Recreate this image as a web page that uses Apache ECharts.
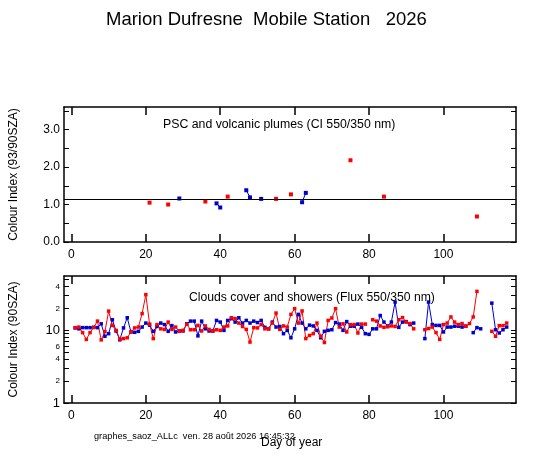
<!DOCTYPE html>
<html>
<head>
<meta charset="utf-8">
<title>Marion Dufresne Mobile Station 2026</title>
<script src="https://cdn.jsdelivr.net/npm/echarts@6/dist/echarts.min.js"></script>
<style type="text/css">
body{ margin:0; background:#fff; }
#chart{ width:547px; height:455px; }
</style>
</head>
<body>
<div id="chart"></div>
<script>
// --- top panel : PSC and volcanic plumes (CI 550/350 nm)
var pscRedDays  = [21, 26, 36, 42, 55, 59, 75, 84, 109];
var pscRedCI    = [1.05, 1.00, 1.08, 1.21, 1.15, 1.27, 2.18, 1.21, 0.68];
var pscBlueDays = [29, 39, 40, 47, 48, 51, 62, 63];
var pscBlueCI   = [1.16, 1.03, 0.92, 1.38, 1.19, 1.15, 1.06, 1.31];
var pscRefCI = 1.15;

// --- bottom panel : clouds cover and showers, one value per day from day 1
var cloudFirstDay = 1;
var cloudRed = [
  10.9, 11.1, 9.3, 7.5, 9.3, 11.0, 13.4, 7.4, 9.6, 18.4,
  11.7, 10.0, 7.6, 7.7, 7.9, 9.5, 10.8, 11.1, 17.0, 31.0,
  12.2, 7.7, 12.0, 10.5, 10.3, 13.0, 10.3, 11.1, 9.7, 10.0,
  12.1, 10.2, 10.2, 11.7, 9.8, 11.5, 10.3, 9.8, 10.2, 10.0,
  11.1, 11.5, 14.9, 14.5, 12.6, 11.3, 10.3, 6.9, 10.9, 10.8,
  12.0, 10.5, 10.5, 12.6, 17.3, 10.3, 11.5, 11.1, 16.6, 19.9,
  12.6, 18.5, 7.7, 8.5, 9.0, 12.6, 8.3, 6.8, 13.7, 14.8,
  19.9, 11.1, 12.3, 9.5, 12.0, 12.0, 9.2, 12.2, 12.2, null,
  14.0, 13.4, 11.5, 11.0, 11.2, 11.5, 11.3, 14.0, 15.0, 13.0,
  12.4, 10.5, null, null, 10.2, 10.6, 11.1, 9.3, 7.5, 12.0,
  12.6, 15.3, 13.0, 12.0, 12.4, 11.4, 12.4, 15.3, 34.4, null,
  null, null, 9.7, 8.3, 11.6, 11.6, 12.6
];
var cloudBlue = [
  10.8, 10.5, 10.9, 10.9, 10.9, 11.0, 10.9, 12.3, 8.3, 9.0,
  14.0, 9.8, 7.4, 10.8, 14.9, 9.5, 9.4, 9.7, 11.1, 12.6,
  11.8, 9.7, 11.3, 12.6, 12.0, 9.7, 11.6, 9.5, 9.8, 9.8,
  12.3, 13.4, 13.4, 8.4, 13.4, 10.5, 9.8, 9.8, 13.7, 13.0,
  10.0, 13.7, 14.5, 13.0, 14.9, 12.6, 13.7, 12.6, 13.4, 12.8,
  13.7, 11.0, 10.5, 13.0, 11.1, 11.3, 9.0, 10.0, 7.9, 10.5,
  16.6, 12.6, 10.5, 11.8, 11.5, 10.0, 7.9, 9.7, 10.0, 10.2,
  12.8, 12.2, 10.0, 13.2, 11.4, 11.4, 12.2, 11.0, 9.0, 8.8,
  10.5, 10.5, 16.0, 13.0, 11.5, 13.0, 24.5, 11.0, 13.0, 13.2,
  12.0, 12.6, null, null, 7.7, 24.5, 12.0, 11.7, 11.7, 9.5,
  11.1, 11.1, 11.4, 11.4, 11.1, 11.4, null, 9.3, 10.9, 10.5,
  null, null, 23.7, 10.2, 9.2, 10.2, 11.1
];

// axis ticks and labels
var dayTicks = [0, 20, 40, 60, 80, 100];
var pscTicks = [0, 0.5, 1, 1.5, 2, 2.5, 3, 3.5];
var pscLabels = [0, 1, 2, 3];
var cloudTicks = [1, 2, 3, 4, 5, 6, 7, 8, 9, 10, 20, 30, 40, 50];
var cloudLabels = [1, 2, 4, 6, 10, 20, 40];

var RED = '#ff0000', BLUE = '#0000cc';

// pairs [day, value], a null between non consecutive days breaks the line
var withGaps = function(days, vals){
    var out = [];
    for (var i = 0; i < days.length; i++){
        if (i > 0 && days[i] - days[i-1] > 1) out.push([days[i] - 0.5, null]);
        out.push([days[i], vals[i]]);
    }
    return out;
};
var daily = function(first, vals){
    return vals.map(function(v, i){ return [first + i, v]; });
};

var chart = echarts.init(document.getElementById('chart'), null, {renderer: 'canvas'});
var FONT = 'Liberation Sans, Arial, sans-serif';
var line = {show: true, onZero: false, lineStyle: {color: '#000', width: 1.5}};

var xAx = function(grid, pos, labels){
    return {
        type: 'value', gridIndex: grid, position: pos, min: -2, max: 119.5,
        axisLine: line, splitLine: {show: false},
        axisTick: {show: true, inside: true, length: 8, customValues: dayTicks, lineStyle: {color: '#000', width: 1.5}},
        axisLabel: {show: labels, customValues: dayTicks, color: '#000', fontSize: 12, fontFamily: FONT, margin: 7}
    };
};

var option = {
    animation: false,
    backgroundColor: '#fff',
    textStyle: {fontFamily: FONT},
    title: [
        {text: 'Marion Dufresne  Mobile Station   2026', left: 101, top: 5,
         textStyle: {fontSize: 18.5, fontWeight: 'normal', color: '#000', fontFamily: FONT}},
        {text: 'PSC and volcanic plumes (CI 550/350 nm)', left: 158, top: 114,
         textStyle: {fontSize: 12.3, fontWeight: 'normal', color: '#000', fontFamily: FONT}},
        {text: 'Clouds cover and showers (Flux 550/350 nm)', left: 184, top: 287,
         textStyle: {fontSize: 12.2, fontWeight: 'normal', color: '#000', fontFamily: FONT}},
        {text: 'graphes_saoz_ALLc  ven. 28 août 2026 16:45:32', left: 89, top: 427,
         textStyle: {fontSize: 9.2, fontWeight: 'normal', color: '#000', fontFamily: FONT}},
        {text: 'Day of year', left: 256, top: 432,
         textStyle: {fontSize: 12, fontWeight: 'normal', color: '#000', fontFamily: FONT}}
    ],
    grid: [
        {left: 64, right: 31, top: 107, height: 135},
        {left: 64, right: 31, top: 276, height: 127}
    ],
    xAxis: [xAx(0, 'bottom', true), xAx(0, 'top', false), xAx(1, 'bottom', true), xAx(1, 'top', false)],
    yAxis: [
        {type: 'value', gridIndex: 0, position: 'left', min: 0, max: 3.6,
         name: 'Colour Index (93/90SZA)', nameLocation: 'middle', nameGap: 44,
         nameTextStyle: {fontSize: 12, color: '#000', fontFamily: FONT},
         axisLine: line, splitLine: {show: false},
         axisTick: {show: true, inside: true, length: 5, customValues: pscTicks, lineStyle: {color: '#000'}},
         axisLabel: {customValues: pscLabels, color: '#000', fontSize: 12, fontFamily: FONT, margin: 4,
                     formatter: function(v){ return v.toFixed(1); }}},
        {type: 'value', gridIndex: 0, position: 'right', min: 0, max: 3.6,
         axisLine: line, splitLine: {show: false},
         axisTick: {show: true, inside: true, length: 5, customValues: pscTicks, lineStyle: {color: '#000'}},
         axisLabel: {show: false}},
        {type: 'log', logBase: 10, gridIndex: 1, position: 'left', min: 1, max: 56,
         name: 'Colour Index (90SZA)', nameLocation: 'middle', nameGap: 44,
         nameTextStyle: {fontSize: 12, color: '#000', fontFamily: FONT},
         axisLine: line, splitLine: {show: false}, minorTick: {show: false},
         axisTick: {show: true, inside: true, length: 5, customValues: cloudTicks, lineStyle: {color: '#000'}},
         axisLabel: {customValues: cloudLabels, color: '#000', margin: 4,
                     formatter: function(v){
                         if (v == 1 || v == 10) return '{big|' + v + '}';
                         return '{small|' + (v >= 10 ? v / 10 : v) + '}';
                     },
                     rich: {big: {fontSize: 13, fontFamily: FONT, color: '#000'},
                            small: {fontSize: 8, fontFamily: FONT, color: '#000'}}}},
        {type: 'log', logBase: 10, gridIndex: 1, position: 'right', min: 1, max: 56,
         axisLine: line, splitLine: {show: false}, minorTick: {show: false},
         axisTick: {show: true, inside: true, length: 5, customValues: cloudTicks, lineStyle: {color: '#000'}},
         axisLabel: {show: false}}
    ],
    series: [
        {type: 'line', xAxisIndex: 0, yAxisIndex: 0, data: withGaps(pscRedDays, pscRedCI),
         symbol: 'rect', symbolSize: 4, showAllSymbol: true, color: RED, lineStyle: {width: 1, color: RED},
         markLine: {silent: true, symbol: 'none', label: {show: false},
                    lineStyle: {color: '#000', width: 1.2, type: 'solid'}, data: [{yAxis: pscRefCI}]}},
        {type: 'line', xAxisIndex: 0, yAxisIndex: 0, data: withGaps(pscBlueDays, pscBlueCI),
         symbol: 'rect', symbolSize: 4, showAllSymbol: true, color: BLUE, lineStyle: {width: 1, color: BLUE}},
        {type: 'line', xAxisIndex: 2, yAxisIndex: 2, data: daily(cloudFirstDay, cloudBlue),
         symbol: 'rect', symbolSize: 3.5, showAllSymbol: true, color: BLUE, lineStyle: {width: 1, color: BLUE}},
        {type: 'line', xAxisIndex: 2, yAxisIndex: 2, data: daily(cloudFirstDay, cloudRed),
         symbol: 'rect', symbolSize: 3.5, showAllSymbol: true, color: RED, lineStyle: {width: 1, color: RED}}
    ]
};
chart.setOption(option);
</script>
</body>
</html>
